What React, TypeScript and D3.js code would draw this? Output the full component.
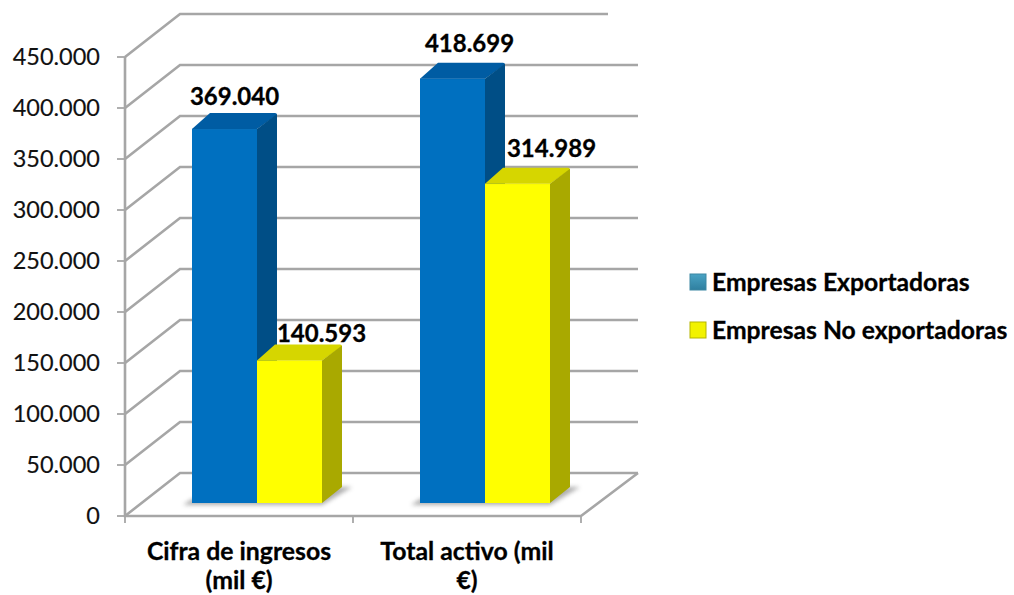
import React from "react";
import * as d3 from "d3";

const categories = ["Cifra de ingresos", "Total activo"];
const categoryLines = [["Cifra de ingresos", "(mil €)"], ["Total activo (mil", "€)"]];
const seriesNames = ["Empresas Exportadoras", "Empresas No exportadoras"];
const exportadoras = [369040, 418699];
const noExportadoras = [140593, 314989];
const yTicks = [0, 50000, 100000, 150000, 200000, 250000, 300000, 350000, 400000, 450000];

const FONT = "Lato, 'Open Sans', sans-serif";
const W = 1014;
const H = 595;

// Chart frame: front edge of the floor and the depth offset towards the back wall.
const left = 125;
const right = 581;
const base = 516;
const top = 57;
const depthX = 55;
const depthY = -43;

// Bars stand part-way into the floor, so they use their own baseline.
const barBase = 503;
const barTop450 = 47;
const barDepthX = 20;
const barDepthY = -16;
const barShiftX = 18;
const barWidth = 65;

// Horizontal / vertical nudges of the value labels, by category then series.
const labelDx = [[10, 32], [17, 34]];
const labelDy = [[-32, -27], [-35, -35]];

const fmt = (v: number) => d3.format(",")(v).replace(/,/g, ".");

const palette = [
  { front: "#0070c0", top: "#005ca3", side: "#004e86" },
  { front: "#ffff00", top: "#d6d600", side: "#a9a900" },
];

function Bar({ x, y, c }: { x: number; y: number; c: (typeof palette)[0] }) {
  const w = barWidth;
  const dx = barDepthX;
  const dy = barDepthY;
  return (
    <g>
      <path
        d={`M${x},${y}L${x + dx - 2},${y + dy}H${x + w + dx - 2}Q${x + w + dx},${y + dy} ${x + w + dx},${y + dy + 2}L${x + w},${y}z`}
        fill={c.top}
      />
      <rect x={x} y={y} width={w} height={barBase - y} fill={c.front} />
      <path
        d={`M${x + w},${y}L${x + w + dx},${y + dy + 1}V${barBase + dy}L${x + w},${barBase}z`}
        fill={c.side}
      />
      <path d={`M${x},${y}h${w}`} stroke={c.top} strokeOpacity={0.35} strokeWidth={1} />
    </g>
  );
}

export default function App() {
  const yAxis = d3.scaleLinear().domain([0, 450000]).range([base, top]);
  const yBar = d3.scaleLinear().domain([0, 450000]).range([barBase, barTop450]);
  const xCat = d3.scaleBand<string>().domain(categories).range([left, right]);
  const xSeries = d3
    .scaleBand<number>()
    .domain([0, 1])
    .range([0, barWidth * 2]);
  const groupStart = (cat: string) =>
    (xCat(cat) as number) + xCat.bandwidth() / 2 + barShiftX - barWidth;

  const gridColor = "#a6a6a6";
  const series = [exportadoras, noExportadoras];

  return (
    <svg
      width={W}
      height={H}
      viewBox={`0 0 ${W} ${H}`}
      style={{ position: "absolute", left: 0, top: 0, fontFamily: FONT }}
    >
      <defs>
        <filter id="floorShadow" x="-20%" y="-50%" width="140%" height="200%">
          <feGaussianBlur stdDeviation="2" />
        </filter>
        <linearGradient id="legendBlue" x1="0" y1="0" x2="0" y2="1">
          <stop offset="0" stopColor="#4aa3c4" />
          <stop offset="1" stopColor="#2f7f9f" />
        </linearGradient>
      </defs>
      <rect width={W} height={H} fill="#fff" />

      {/* walls: each tick runs along the side wall, then across the back */}
      {yTicks.map((t) => {
        const y = yAxis(t);
        const endX = t === 450000 ? 608 : right + depthX + 2;
        return (
          <path
            key={t}
            d={`M${left},${y}L${left + depthX},${y + depthY}H${endX}`}
            fill="none"
            stroke={gridColor}
            strokeWidth={2.6}
          />
        );
      })}

      {/* floor and axes */}
      <path
        d={`M${left},${top}V${base}H${right}L${right + depthX + 2},${base + depthY}`}
        fill="none"
        stroke={gridColor}
        strokeWidth={2.6}
      />
      {yTicks.map((t) => (
        <line key={t} x1={left - 8} x2={left} y1={yAxis(t)} y2={yAxis(t)} stroke={gridColor} strokeWidth={1.8} />
      ))}
      {[left, xCat("Total activo") as number, right].map((x) => (
        <line key={x} x1={x} x2={x} y1={base} y2={base + 7} stroke={gridColor} strokeWidth={1.8} />
      ))}

      {/* bars and their floor shadows */}
      {categories.map((cat, i) => {
        const x0 = groupStart(cat);
        const x1 = x0 + barWidth * 2;
        return (
          <g key={cat}>
            <path
              d={`M${x0 - 9},${barBase + 2}H${x1}L${x1 + barDepthX + 10},${barBase + barDepthY}H${x1}L${x0},${barBase - 4}z`}
              fill="#8c8c8c"
              opacity={0.7}
              filter="url(#floorShadow)"
            />
            {series.map((s, j) => (
              <Bar key={j} x={x0 + (xSeries(j) as number)} y={yBar(s[i])} c={palette[j]} />
            ))}
          </g>
        );
      })}

      {/* value labels */}
      {categories.map((cat, i) =>
        series.map((s, j) => (
          <text
            key={`${cat}-${j}`}
            x={groupStart(cat) + (xSeries(j) as number) + barWidth / 2 + labelDx[i][j]}
            y={yBar(s[i]) + labelDy[i][j]}
            dy="0.35em"
            textAnchor="middle"
            fontSize={24}
            fontWeight={700}
            fill="#000"
            stroke="#000"
            strokeWidth={0.3}
          >
            {fmt(s[i])}
          </text>
        ))
      )}

      {/* value axis labels */}
      {yTicks.map((t) => (
        <text key={t} x={100} y={yAxis(t)} dy="0.35em" textAnchor="end" fontSize={23.5} fill="#111" stroke="#111" strokeWidth={0.15}>
          {fmt(t)}
        </text>
      ))}

      {/* category labels */}
      {categoryLines.map((lines, i) =>
        lines.map((line, k) => (
          <text
            key={line}
            x={(xCat(categories[i]) as number) + xCat.bandwidth() / 2}
            y={551 + k * 29}
            dy="0.35em"
            textAnchor="middle"
            fontSize={24.8}
            fontWeight={700}
            fill="#000"
            stroke="#000"
            strokeWidth={0.3}
          >
            {line}
          </text>
        ))
      )}

      {/* legend */}
      {seriesNames.map((name, i) => {
        const y = 282 + i * 48;
        return (
          <g key={name}>
            <rect
              x={690}
              y={y - 8}
              width={16}
              height={16}
              fill={i === 0 ? "url(#legendBlue)" : "#f2f200"}
              stroke={i === 0 ? "#3c87a3" : "#b5b500"}
              strokeWidth={1}
            />
            <text x={712} y={y} dy="0.35em" fontSize={24.7} fontWeight={700} fill="#000" stroke="#000" strokeWidth={0.3}>
              {name}
            </text>
          </g>
        );
      })}
    </svg>
  );
}
